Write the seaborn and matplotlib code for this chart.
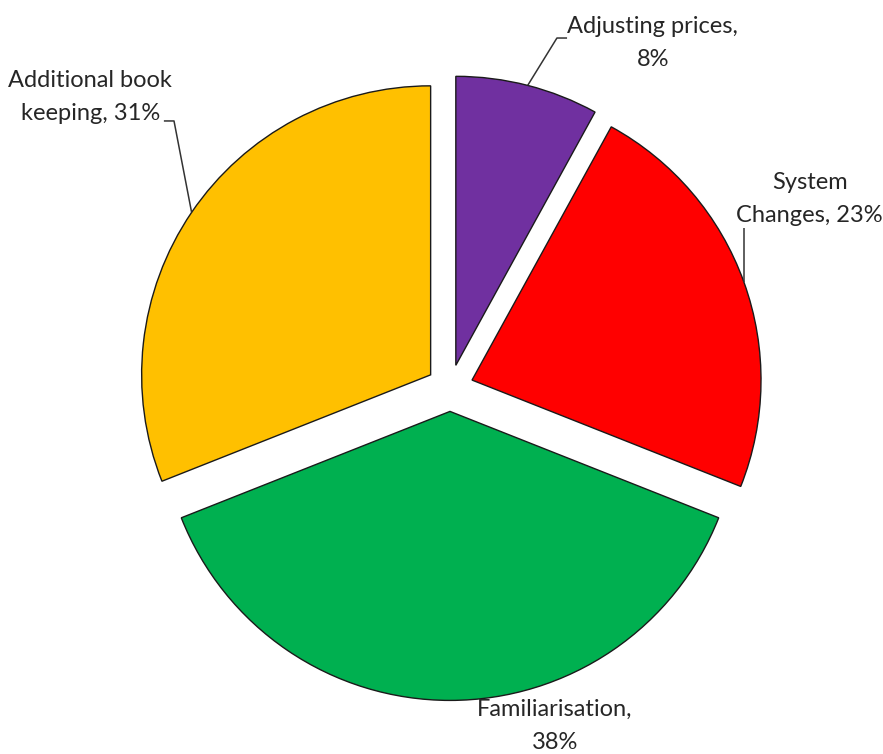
import numpy as np
import matplotlib
matplotlib.use("Agg")
import matplotlib.pyplot as plt
import seaborn as sns

# Share of additional cost by activity
categories = ["Adjusting prices", "System Changes", "Familiarisation", "Additional book keeping"]
shares = [8, 23, 38, 31]
label_texts = ["Adjusting prices,\n8%", "System\nChanges, 23%",
               "Familiarisation,\n38%", "Additional book\nkeeping, 31%"]
slice_colors = ["#7030A0", "#FF0000", "#00B050", "#FFC000"]

sns.set_theme(style="white")
plt.rcParams["font.family"] = ["Lato", "DejaVu Sans"]

W, H, DPI = 883, 754, 100
fig = plt.figure(figsize=(W / DPI, H / DPI), dpi=DPI)
ax = fig.add_axes([0, 0, 1, 1])

wedges, _ = ax.pie(
    shares,
    colors=slice_colors,
    startangle=90,
    counterclock=False,
    explode=[0.081] * len(shares),
    radius=1.0,
    wedgeprops=dict(edgecolor="#1a1a1a", linewidth=1.0),
)

# pixel-consistent limits: 289 px per data unit, pie centre at (450, 388) from top-left
unit = 289.0
cx, cy = 450.0, 388.0
ax.set_aspect("auto")
ax.set_xlim(-cx / unit, (W - cx) / unit)
ax.set_ylim(-(H - cy) / unit, cy / unit)
ax.axis("off")

text_color = "#262626"
line_color = "#333333"
fs = 17

# label block centres (data units) and leader-line elbows
label_pos = {
    0: (0.702, 1.194),
    1: (1.245, 0.654),
    2: (0.363, -1.170),
    3: (-1.245, 1.007),
}
elbows = {
    0: [(0.370, 1.211), (0.405, 1.211)],
    1: [None, (None, 0.554)],
    3: [(-0.955, 0.924), (-0.990, 0.924)],
}

for i, w in enumerate(wedges):
    tx, ty = label_pos[i]
    ax.text(tx, ty, label_texts[i], ha="center", va="center",
            fontsize=fs, color=text_color, linespacing=1.72)
    if i not in elbows:
        continue
    mid = np.deg2rad((w.theta1 + w.theta2) / 2)
    ox, oy = w.center
    px = ox + w.r * np.cos(mid)
    py = oy + w.r * np.sin(mid)
    pts = elbows[i]
    if pts[0] is None:
        xs = [px, px]
        ys = [py, pts[1][1]]
    else:
        xs = [px, pts[0][0], pts[1][0]]
        ys = [py, pts[0][1], pts[1][1]]
    ax.plot(xs, ys, color=line_color, linewidth=1.1, solid_capstyle="butt")

fig.savefig("out.png", dpi=DPI, facecolor="white")
